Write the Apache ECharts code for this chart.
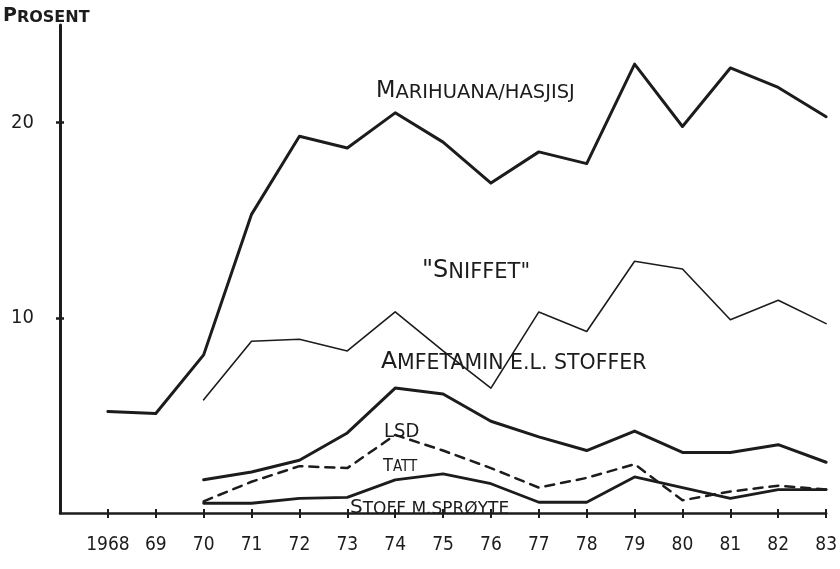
<!DOCTYPE html>
<html>
<head>
<meta charset="utf-8">
<title>Prosent</title>
<script src="https://cdn.jsdelivr.net/npm/echarts@6/dist/echarts.min.js"></script>
<style>
  html, body { margin: 0; padding: 0; background: #fff; }
  #chart { width: 840px; height: 569px; }
</style>
</head>
<body>
<div id="chart"></div>
<script>
// first slot is the empty origin position, one year before 1968
const years = ['', '1968', '69', '70', '71', '72', '73', '74', '75', '76', '77', '78', '79', '80', '81', '82', '83'];
const yTicks = [10, 20];

const marihuana = [null, 5.2, 5.1, 8.1, 15.3, 19.3, 18.7, 20.5, 19.0, 16.9, 18.5, 17.9, 23.0, 19.8, 22.8, 21.8, 20.3];
const sniffet   = [null, null, null, 5.8, 8.8, 8.9, 8.3, 10.3, 8.3, 6.4, 10.3, 9.3, 12.9, 12.5, 9.9, 10.9, 9.7];
const amfetamin = [null, null, null, 1.7, 2.1, 2.7, 4.1, 6.4, 6.1, 4.7, 3.9, 3.2, 4.2, 3.1, 3.1, 3.5, 2.6];
const lsd       = [null, null, null, 0.6, 1.6, 2.4, 2.3, 4.0, 3.2, 2.3, 1.3, 1.8, 2.5, 0.65, 1.1, 1.4, 1.2];
const sproyte   = [null, null, null, 0.5, 0.5, 0.75, 0.8, 1.7, 2.0, 1.5, 0.55, 0.55, 1.85, 1.3, 0.75, 1.2, 1.2];

const ink = '#1c1c1c';
const font = '"DejaVu Sans Condensed", "DejaVu Sans", sans-serif';
const labelFont = '"DejaVu Sans", sans-serif';

const chart = echarts.init(document.getElementById('chart'));

function lineSeries(name, data, width, type) {
  return {
    name: name,
    type: 'line',
    data: data,
    showSymbol: false,
    connectNulls: false,
    lineStyle: { color: ink, width: width, type: type || 'solid', cap: 'round', join: 'round' },
    z: 3
  };
}

// small caps style: first letter a bit bigger than the rest
function label(left, top, big, rest, size, bold, family) {
  const ff = family || labelFont;
  return {
    type: 'text',
    left: left,
    top: top,
    style: {
      text: '{a|' + big + '}{b|' + rest + '}',
      rich: {
        a: { fontFamily: ff, fontSize: size + 3, fontWeight: bold ? 'bold' : 'normal', fill: ink, verticalAlign: 'bottom' },
        b: { fontFamily: ff, fontSize: size, fontWeight: bold ? 'bold' : 'normal', fill: ink, verticalAlign: 'bottom' }
      }
    }
  };
}

const option = {
  backgroundColor: '#fff',
  animation: false,
  grid: { left: 60, right: 12, top: 25, bottom: 56, containLabel: false },
  xAxis: [{
    type: 'category',
    data: years,
    boundaryGap: false,
    axisLine: { lineStyle: { color: ink, width: 2.5 } },
    axisTick: { length: 5, interval: i => i !== 0, lineStyle: { color: ink, width: 2 } },
    axisLabel: { interval: 0, margin: 23, color: ink, fontFamily: font, fontSize: 19 },
    splitLine: { show: false }
  }, {
    type: 'category',
    data: years,
    boundaryGap: false,
    position: 'bottom',
    axisLine: { show: false },
    axisTick: { inside: true, length: 4, interval: i => i !== 0, lineStyle: { color: ink, width: 2 } },
    axisLabel: { show: false },
    splitLine: { show: false }
  }],
  yAxis: [{
    type: 'value',
    min: 0,
    max: 25,
    axisLine: { show: true, lineStyle: { color: ink, width: 3 } },
    axisTick: { show: true, length: 4, customValues: yTicks, lineStyle: { color: ink, width: 2.5 } },
    axisLabel: { customValues: yTicks, margin: 26, color: ink, fontFamily: font, fontSize: 20 },
    splitLine: { show: false }
  }, {
    type: 'value',
    min: 0,
    max: 25,
    position: 'left',
    axisLine: { show: false },
    axisTick: { show: true, inside: true, length: 4, customValues: yTicks, lineStyle: { color: ink, width: 2.5 } },
    axisLabel: { show: false },
    splitLine: { show: false }
  }],
  series: [
    lineSeries('Marihuana/hasjisj', marihuana, 3),
    lineSeries('"Sniffet"', sniffet, 1.6),
    lineSeries('Amfetamin e.l. stoffer', amfetamin, 3),
    lineSeries('LSD', lsd, 2.5, [9, 7]),
    lineSeries('Tatt stoff m. sprøyte', sproyte, 2.8)
  ],
  graphic: [
    label(3, 7, 'P', 'ROSENT', 16, true),
    label(376, 80, 'M', 'ARIHUANA/HASJISJ', 19.5),
    label(422, 259, '"S', 'NIFFET"', 21),
    label(381, 350, 'A', 'MFETAMIN E.L. STOFFER', 20.5),
    label(384, 422, 'LSD', '', 17, false, font),
    label(383, 457, 'T', 'ATT', 15, false, font),
    label(350, 498, 'S', 'TOFF M.SPRØYTE', 17)
  ]
};

chart.setOption(option);
</script>
</body>
</html>
